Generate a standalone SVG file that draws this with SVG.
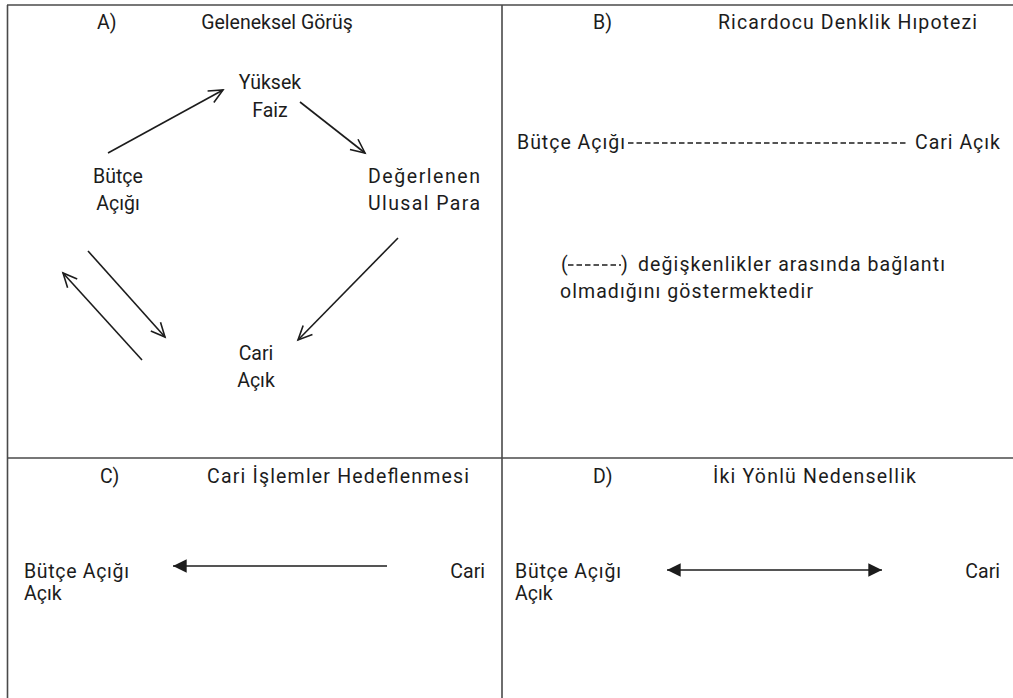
<svg xmlns="http://www.w3.org/2000/svg" width="1013" height="698" viewBox="0 0 1013 698">
<style>
text{font-family:Roboto,"Liberation Sans",sans-serif;font-size:19.5px;fill:#1c1c1c}
.frame{stroke:#4a4a4a;stroke-width:1.6;fill:none}
.c{stroke:#1c1c1c;stroke-width:1.6;fill:none}
.dash{stroke:#1c1c1c;stroke-width:1.5;stroke-dasharray:5.5 3;fill:none}
</style>
<defs>
<marker id="open" markerUnits="userSpaceOnUse" markerWidth="20" markerHeight="20" viewBox="-16 -10 20 20" refX="0" refY="0" orient="auto">
<path d="M-14,-6.5 L0,0 L-14,6.5" stroke="#1c1c1c" stroke-width="1.6" fill="none"/>
</marker>
<marker id="solid" markerUnits="userSpaceOnUse" markerWidth="16" markerHeight="16" viewBox="-13 -7 14 14" refX="0" refY="0" orient="auto-start-reverse">
<path d="M-12,-6 L0,0 L-12,6 Z" fill="#1c1c1c"/>
</marker>
</defs>
<rect width="1013" height="698" fill="#fff"/>
<g id="frame">
<line class="frame" x1="7.5" y1="5" x2="7.5" y2="698"/>
<line class="frame" x1="7" y1="5" x2="1013" y2="5"/>
<line class="frame" x1="502" y1="5" x2="502" y2="698"/>
<line class="frame" x1="7" y1="458" x2="1013" y2="458"/>
</g>
<g id="titles">
<text x="97" y="29">A)</text>
<text x="277" y="29" text-anchor="middle">Geleneksel Görüş</text>
<text x="593" y="29">B)</text>
<text x="718" y="29" textLength="259" lengthAdjust="spacing">Ricardocu Denklik Hıpotezi</text>
<text x="100" y="483">C)</text>
<text x="207" y="483" textLength="262" lengthAdjust="spacing">Cari İşlemler Hedeflenmesi</text>
<text x="593" y="483">D)</text>
<text x="713" y="483" textLength="203" lengthAdjust="spacing">İki Yönlü Nedensellik</text>
</g>
<g id="a-yuksek-faiz">
<text x="270" y="89" text-anchor="middle">Yüksek</text>
<text x="270" y="117" text-anchor="middle">Faiz</text>
</g>
<g id="a-butce-acigi">
<text x="118" y="183" text-anchor="middle">Bütçe</text>
<text x="118" y="210" text-anchor="middle">Açığı</text>
</g>
<g id="a-degerlenen">
<text x="368" y="183" textLength="112" lengthAdjust="spacing">Değerlenen</text>
<text x="368" y="210" textLength="112" lengthAdjust="spacing">Ulusal Para</text>
</g>
<g id="a-cari-acik">
<text x="256" y="360" text-anchor="middle">Cari</text>
<text x="256" y="387" text-anchor="middle">Açık</text>
</g>
<g id="b-butce-acigi">
<text x="517" y="149" textLength="108" lengthAdjust="spacing">Bütçe Açığı</text>
</g>
<g id="b-cari-acik">
<text x="915" y="149" textLength="85" lengthAdjust="spacing">Cari Açık</text>
</g>
<g id="b-legend">
<text x="561" y="271">(</text>
<line class="dash" x1="568" y1="265" x2="621" y2="265"/>
<text x="621" y="271">)</text>
<text x="638" y="271" textLength="307" lengthAdjust="spacing">değişkenlikler arasında bağlantı</text>
<text x="560" y="298" textLength="253" lengthAdjust="spacing">olmadığını göstermektedir</text>
</g>
<g id="c-butce-acigi">
<text x="24" y="578" textLength="105" lengthAdjust="spacing">Bütçe Açığı</text>
<text x="24" y="600">Açık</text>
</g>
<g id="c-cari">
<text x="485" y="578" text-anchor="end">Cari</text>
</g>
<g id="d-butce-acigi">
<text x="515" y="578" textLength="106" lengthAdjust="spacing">Bütçe Açığı</text>
<text x="515" y="600">Açık</text>
</g>
<g id="d-cari">
<text x="1000" y="578" text-anchor="end">Cari</text>
</g>
<g id="connectors">
<line class="c" x1="108" y1="153" x2="223" y2="90" marker-end="url(#open)"/>
<line class="c" x1="300" y1="102" x2="365" y2="153" marker-end="url(#open)"/>
<line class="c" x1="398" y1="238" x2="298" y2="340" marker-end="url(#open)"/>
<line class="c" x1="88" y1="251" x2="165" y2="337" marker-end="url(#open)"/>
<line class="c" x1="142" y1="360" x2="63" y2="273" marker-end="url(#open)"/>
<line class="dash" x1="628" y1="143" x2="908" y2="143"/>
<line class="c" x1="387" y1="566" x2="173" y2="566" marker-end="url(#solid)"/>
<line class="c" x1="667" y1="570" x2="882" y2="570" marker-start="url(#solid)" marker-end="url(#solid)"/>
</g>
</svg>
